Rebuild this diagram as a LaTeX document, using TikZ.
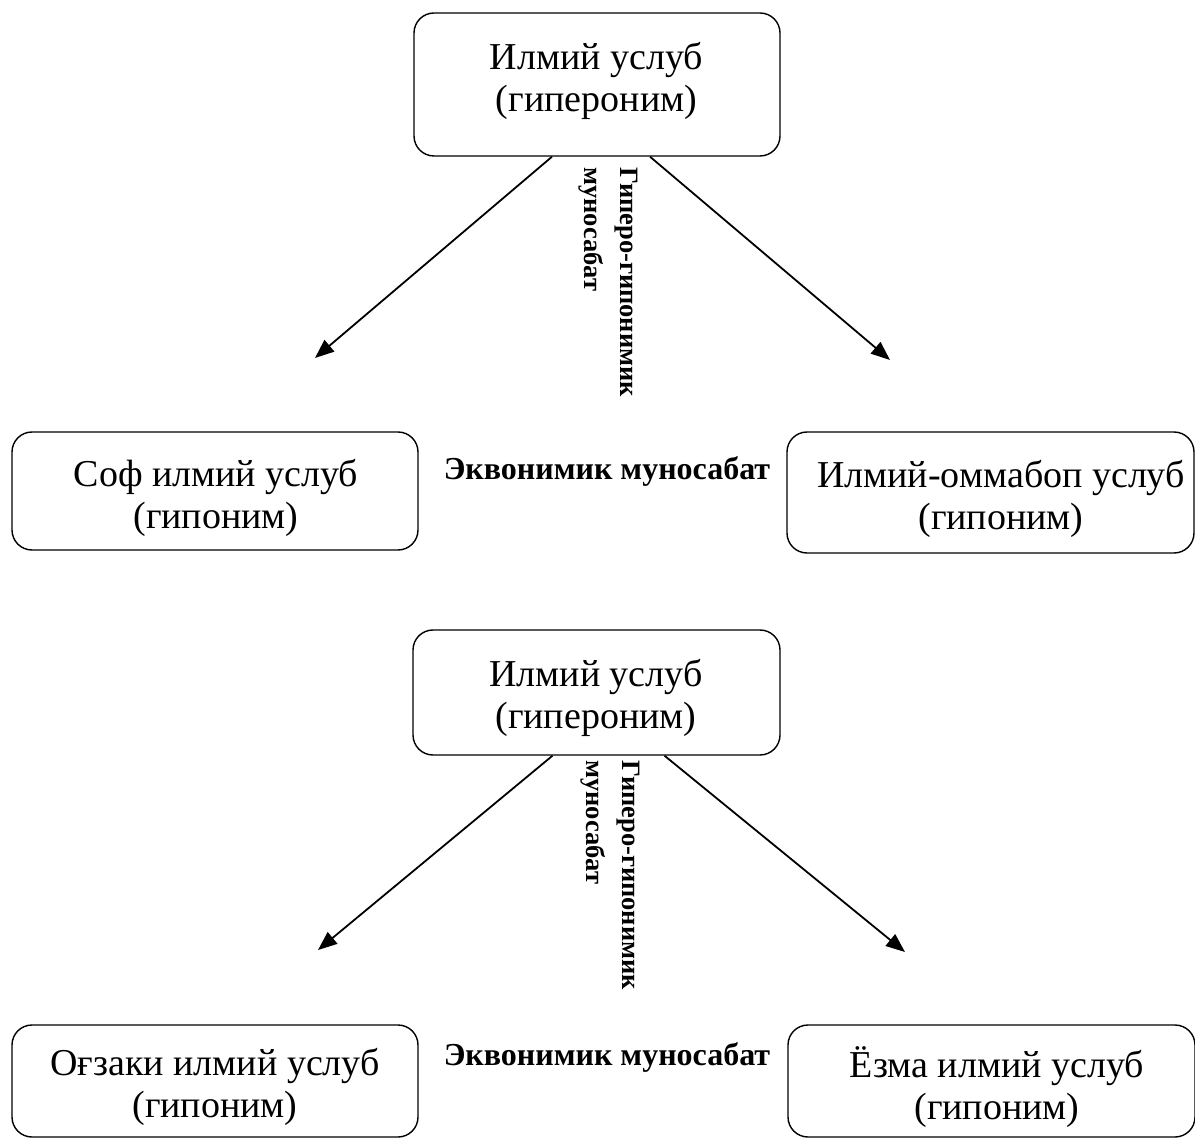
\documentclass[tikz,border=0pt]{standalone}
\usepackage{fontspec}
\setmainfont{Liberation Serif}
\usetikzlibrary{arrows.meta,calc}
\begin{document}
\begin{tikzpicture}[x=1pt,y=-1pt,
  box/.style={draw, line width=1.4pt, rounded corners=20pt, inner sep=0pt},
  txt/.style={align=center, inner sep=0pt, font=\fontsize{38}{42}\selectfont},
  lbl/.style={font=\bfseries\fontsize{32}{36}\selectfont, inner sep=0pt},
  vlbl/.style={font=\bfseries\fontsize{26.5}{36}\selectfont, inner sep=0pt, align=left, rotate=-90, anchor=west},
  arr/.style={line width=1.8pt, -{Triangle[length=19pt,width=15pt]}}]
\useasboundingbox (0,0) rectangle (1195,1139);
% upper group
\node[box, minimum width=366pt, minimum height=143pt] (h1) at (597,84.5) {};
\node[txt] (h1t) at (596.5,81) {Илмий услуб\\(гипероним)};
\node[box, minimum width=406pt, minimum height=118pt] (s1) at (215,491) {};
\node[txt] (s1t) at (216,498) {Соф илмий услуб\\(гипоним)};
\node[box, minimum width=407pt, minimum height=121pt] (p1) at (990.5,492.5) {};
\node[txt] (p1t) at (1001,499) {Илмий-оммабоп услуб\\(гипоним)};
\coordinate (e1l) at (315,358);
\coordinate (e1r) at (890,360);
\draw[arr] ($(h1.south)+(-45,0)$) -- (e1l);
\draw[arr] ($(h1.south)+(53,0)$) -- (e1r);
\node[vlbl] (v1) at (608,167) {Гиперо-гипонимик\\муносабат};
\node[lbl] (q1) at (607,472) {Эквонимик муносабат};
% lower group
\node[box, minimum width=367pt, minimum height=125pt] (h2) at (596.5,692.5) {};
\node[txt] (h2t) at (596,698) {Илмий услуб\\(гипероним)};
\node[box, minimum width=406pt, minimum height=112pt] (s2) at (215,1081) {};
\node[txt] (s2t) at (215,1087) {Оғзаки илмий услуб\\(гипоним)};
\node[box, minimum width=407pt, minimum height=112pt] (p2) at (991.5,1081) {};
\node[txt] (p2t) at (997,1087) {Ёзма илмий услуб\\(гипоним)};
\coordinate (e2l) at (318,950);
\coordinate (e2r) at (905,952);
\draw[arr] ($(h2.south)+(-44,0)$) -- (e2l);
\draw[arr] ($(h2.south)+(68,0)$) -- (e2r);
\node[vlbl] (v2) at (610,760) {Гиперо-гипонимик\\муносабат};
\node[lbl] (q2) at (607,1057) {Эквонимик муносабат};
\end{tikzpicture}
\end{document}
